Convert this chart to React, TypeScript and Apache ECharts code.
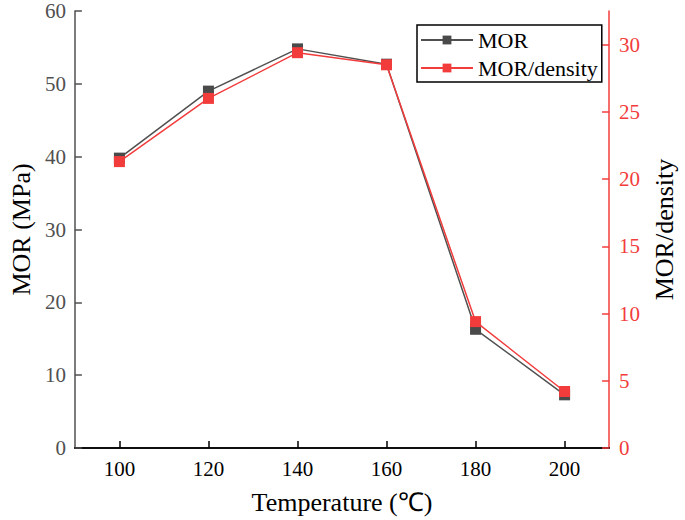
import React, { useEffect, useRef } from "react";
import * as echarts from "echarts";

const temperatures = [100, 120, 140, 160, 180, 200];
const morValues = [39.8, 49.0, 54.8, 52.7, 16.3, 7.3];
const morDensityValues = [21.3, 26.0, 29.4, 28.5, 9.4, 4.2];
const xTicks = [100, 120, 140, 160, 180, 200];
const rightTicks = [0, 5, 10, 15, 20, 25, 30];

const FONT = "Liberation Serif";
const GRAY = "#505050";
const RED = "#f23c3c";

const App = () => {
  const chartRef = useRef<HTMLDivElement>(null);

  useEffect(() => {
    if (!chartRef.current) return;
    const chart = echarts.init(chartRef.current, undefined, { renderer: "svg" });

    chart.setOption({
      animation: false,
      backgroundColor: "#ffffff",
      textStyle: { fontFamily: FONT },
      grid: { left: 70, right: 70, top: 11, bottom: 68, containLabel: false },
      legend: {
        left: 417,
        top: 25,
        orient: "vertical",
        itemWidth: 52,
        itemHeight: 11,
        itemGap: 6,
        padding: [4, 4, 3, 3],
        borderColor: "#000",
        borderWidth: 1.5,
        textStyle: { fontFamily: FONT, fontSize: 22, color: "#000" },
        data: ["MOR", "MOR/density"],
      },
      xAxis: [
        {
          type: "value",
          min: 90,
          max: 210,
          name: "Temperature (℃)",
          nameLocation: "middle",
          nameGap: 41,
          nameTextStyle: { fontFamily: FONT, fontSize: 26, color: "#000" },
          axisLine: { lineStyle: { color: "#000", width: 1.5 } },
          axisTick: {
            inside: true,
            length: 7,
            customValues: xTicks,
            lineStyle: { color: "#000", width: 1.5 },
          },
          axisLabel: {
            customValues: xTicks,
            color: "#000",
            fontFamily: FONT,
            fontSize: 21,
            margin: 10,
          },
          splitLine: { show: false },
        },
        {
          type: "value",
          position: "top",
          min: 90,
          max: 210,
          axisLine: { show: true, lineStyle: { color: "#000", width: 1.5 } },
          axisTick: { show: false },
          axisLabel: { show: false },
          splitLine: { show: false },
        },
      ],
      yAxis: [
        {
          type: "value",
          min: 0,
          max: 60,
          interval: 10,
          name: "MOR (MPa)",
          nameLocation: "middle",
          nameGap: 35,
          nameTextStyle: { fontFamily: FONT, fontSize: 26, color: "#000" },
          axisLine: { show: true, lineStyle: { color: GRAY, width: 1.5 } },
          axisTick: {
            show: true,
            inside: true,
            length: 7,
            lineStyle: { color: GRAY, width: 1.5 },
          },
          axisLabel: {
            color: GRAY,
            fontFamily: FONT,
            fontSize: 21,
            margin: 9,
          },
          splitLine: { show: false },
        },
        {
          type: "value",
          position: "right",
          min: 0,
          max: 32.5,
          name: "MOR/density",
          nameLocation: "middle",
          nameGap: 38,
          nameRotate: 90,
          nameTextStyle: { fontFamily: FONT, fontSize: 26, color: "#000" },
          axisLine: { show: true, lineStyle: { color: RED, width: 1.5 } },
          axisTick: {
            show: true,
            inside: true,
            length: 7,
            customValues: rightTicks,
            lineStyle: { color: RED, width: 1.5 },
          },
          axisLabel: {
            customValues: rightTicks,
            color: RED,
            fontFamily: FONT,
            fontSize: 21,
            margin: 10,
          },
          splitLine: { show: false },
        },
      ],
      series: [
        {
          name: "MOR",
          type: "line",
          xAxisIndex: 0,
          yAxisIndex: 0,
          data: temperatures.map((t, i) => [t, morValues[i]]),
          symbol: "rect",
          symbolSize: 11,
          lineStyle: { color: GRAY, width: 1.5 },
          itemStyle: { color: "#4a4a4a" },
        },
        {
          name: "MOR/density",
          type: "line",
          xAxisIndex: 0,
          yAxisIndex: 1,
          data: temperatures.map((t, i) => [t, morDensityValues[i]]),
          symbol: "rect",
          symbolSize: 11,
          lineStyle: { color: RED, width: 1.5 },
          itemStyle: { color: RED },
        },
      ],
    });

    return () => {
      chart.dispose();
    };
  }, []);

  return (
    <div
      ref={chartRef}
      style={{ position: "absolute", left: 0, top: 0, width: 685, height: 520 }}
    />
  );
};

export default App;
